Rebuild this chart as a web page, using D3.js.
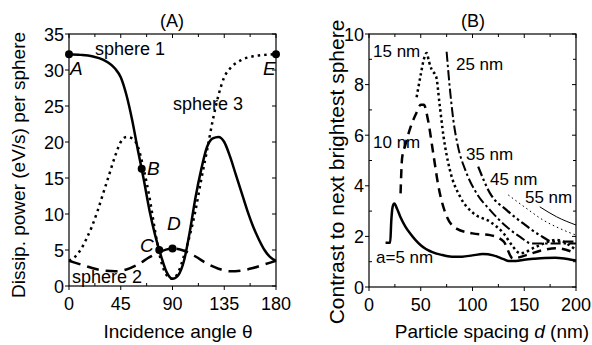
<!DOCTYPE html>
<html>
<head>
<meta charset="utf-8">
<script src="https://cdn.jsdelivr.net/npm/d3@7"></script>
<style>
  body { margin: 0; background: #fff; }
  svg { display: block; font-family: "Liberation Sans", Arial, sans-serif; }
</style>
</head>
<body>
<svg id="chart" width="592" height="345"></svg>
<script>
// Panel A: dissipated power vs incidence angle
const anglesA = [0, 10, 20, 30, 40, 45, 50, 55, 60, 65, 70, 75, 80, 85, 90, 95, 100, 105, 110, 115, 120, 125, 130, 135, 140, 145, 150, 155, 160, 165, 170, 175, 180];
const sphere1 = [32.2, 32.1, 31.9, 31.4, 30.2, 29.0, 26.5, 23.0, 18.8, 14.8, 10.5, 7.0, 4.2, 1.9, 1.0, 1.5, 3.5, 7.5, 12.3, 16.2, 19.3, 20.5, 20.7, 20.0, 18.0, 15.5, 13.0, 10.5, 8.3, 6.5, 5.0, 4.0, 3.5];
const anglesS3 = [0, 5, 10, 15, 20, 25, 30, 35, 40, 45, 50, 55, 60, 65, 70, 75, 80, 85, 90, 95, 100, 105, 110, 115, 120, 125, 130, 135, 140, 150, 160, 170, 180];
const sphere3 = [3.5, 4.0, 5.0, 6.5, 8.3, 10.5, 13.0, 15.5, 18.0, 20.0, 20.7, 20.5, 19.3, 16.2, 12.3, 7.5, 3.5, 1.5, 1.0, 1.9, 4.2, 7.0, 10.5, 14.8, 18.8, 23.0, 26.5, 29.0, 30.2, 31.4, 31.9, 32.1, 32.2];
const anglesS2 = [0, 10, 20, 30, 40, 50, 60, 70, 80, 90, 100, 110, 120, 130, 140, 150, 160, 170, 180];
const sphere2 = [3.5, 3.0, 2.5, 2.15, 2.05, 2.3, 3.0, 4.0, 4.8, 5.2, 4.9, 4.1, 3.1, 2.4, 2.05, 2.15, 2.5, 3.0, 3.5];

const markerNames = ['A', 'B', 'C', 'D', 'E'];
const markerAngles = [0, 63.2, 78.5, 90, 180];
const markerValues = [32.2, 16.3, 5.0, 5.2, 32.2];

const xTicksA = [0, 45, 90, 135, 180];
const yTicksA = [0, 5, 10, 15, 20, 25, 30, 35];

// Panel B: contrast vs particle spacing, one curve per radius
const dA5 = [16, 20.5, 21.5, 23, 24.5, 27, 30, 35, 40, 45, 50, 55, 60, 70, 80, 90, 100, 110, 120, 130, 135, 142, 150, 160, 170, 180, 190, 200];
const vA5 = [1.75, 1.75, 2.6, 3.2, 3.3, 3.1, 2.8, 2.4, 2.1, 1.85, 1.65, 1.5, 1.4, 1.27, 1.2, 1.2, 1.25, 1.3, 1.25, 1.1, 1.03, 1.03, 1.08, 1.12, 1.15, 1.16, 1.12, 1.05];
const dA10 = [30.5, 32, 35, 40, 46, 50, 53, 57, 62, 67, 75, 85, 100, 117, 130, 139, 152, 168, 181, 200];
const vA10 = [3.7, 5.1, 5.6, 6.3, 6.9, 7.2, 7.2, 6.6, 5.3, 4.0, 2.8, 2.3, 2.12, 2.05, 1.8, 1.13, 1.26, 1.46, 1.53, 1.33];
const dA15 = [46, 50, 53, 55.7, 58, 60.5, 65, 68, 72, 78, 88, 101, 117, 130, 139, 146, 162, 181, 200];
const vA15 = [7.5, 8.4, 9.0, 9.25, 8.9, 8.6, 8.3, 7.3, 5.95, 4.65, 3.57, 2.91, 2.58, 2.12, 1.6, 1.33, 1.6, 1.86, 1.46];
const dA25 = [75, 78, 81.5, 86, 93, 104, 117, 133, 146, 157, 175, 200];
const vA25 = [9.3, 7.9, 6.6, 5.55, 4.63, 3.7, 3.04, 2.38, 1.98, 1.72, 1.72, 1.72];
const dA35 = [105.5, 117, 133, 149, 165, 178, 200];
const vA35 = [4.76, 3.7, 3.04, 2.51, 2.05, 1.79, 1.79];
const dA45 = [134.5, 152, 168.5, 184.5, 200];
const vA45 = [3.64, 3.11, 2.64, 2.31, 2.05];
const dA55 = [165, 181, 200];
const vA55 = [3.17, 2.78, 2.45];

const curveNames = ['a=5 nm', '10 nm', '15 nm', '25 nm', '35 nm', '45 nm', '55 nm'];
const xTicksB = [0, 50, 100, 150, 200];
const yTicksB = [0, 2, 4, 6, 8, 10];

const svg = d3.select('#chart');

function frame(g, x, y, xMajor, xMinor, yMajor, yMinor) {
  const [x0, x1] = x.range();
  const [y0, y1] = y.range();
  g.append('rect')
    .attr('x', x0).attr('y', y1)
    .attr('width', x1 - x0).attr('height', y0 - y1)
    .attr('fill', 'none').attr('stroke', '#000').attr('stroke-width', 1.2);

  // major ticks: outward on bottom/left, inward on top/right
  xMajor.forEach(t => {
    g.append('line').attr('x1', x(t)).attr('x2', x(t)).attr('y1', y0).attr('y2', y0 + 4);
    g.append('line').attr('x1', x(t)).attr('x2', x(t)).attr('y1', y1).attr('y2', y1 + 4);
  });
  yMajor.forEach(t => {
    g.append('line').attr('x1', x0 - 4).attr('x2', x0).attr('y1', y(t)).attr('y2', y(t));
    g.append('line').attr('x1', x1 - 4).attr('x2', x1).attr('y1', y(t)).attr('y2', y(t));
  });
  xMinor.forEach(t => {
    g.append('line').attr('x1', x(t)).attr('x2', x(t)).attr('y1', y0).attr('y2', y0 - 3);
    g.append('line').attr('x1', x(t)).attr('x2', x(t)).attr('y1', y1).attr('y2', y1 + 3);
  });
  yMinor.forEach(t => {
    g.append('line').attr('x1', x0).attr('x2', x0 + 3).attr('y1', y(t)).attr('y2', y(t));
    g.append('line').attr('x1', x1 - 3).attr('x2', x1).attr('y1', y(t)).attr('y2', y(t));
  });
  g.selectAll('line').attr('stroke', '#000').attr('stroke-width', 1);

  g.selectAll('.xl').data(xMajor).enter().append('text')
    .attr('x', d => x(d)).attr('y', y0 + 24)
    .attr('text-anchor', 'middle').attr('font-size', 18)
    .text(d => d);
  g.selectAll('.yl').data(yMajor).enter().append('text')
    .attr('x', x0 - 5).attr('y', d => y(d) + 6.5)
    .attr('text-anchor', 'end').attr('font-size', 18)
    .text(d => d);
}

// ---------- Panel A ----------
const xA = d3.scaleLinear().domain([0, 180]).range([69, 276]);
const yA = d3.scaleLinear().domain([0, 35]).range([286, 34]);
const gA = svg.append('g');

frame(gA, xA, yA, xTicksA, [22.5, 67.5, 112.5, 157.5], yTicksA, []);

const lineA = (xs) => d3.line()
  .x((d, i) => xA(xs[i])).y(d => yA(d))
  .curve(d3.curveMonotoneX);

gA.append('path').datum(sphere3).attr('d', lineA(anglesS3))
  .attr('fill', 'none').attr('stroke', '#000').attr('stroke-width', 2.5)
  .attr('stroke-dasharray', '2.5,4');
gA.append('path').datum(sphere2).attr('d', lineA(anglesS2))
  .attr('fill', 'none').attr('stroke', '#000').attr('stroke-width', 2.5)
  .attr('stroke-dasharray', '12,7');
gA.append('path').datum(sphere1).attr('d', lineA(anglesA))
  .attr('fill', 'none').attr('stroke', '#000').attr('stroke-width', 2.5);

gA.selectAll('.dot').data(markerNames).enter().append('circle')
  .attr('cx', (d, i) => xA(markerAngles[i]))
  .attr('cy', (d, i) => yA(markerValues[i]))
  .attr('r', 4).attr('fill', '#000');

const letterAt = { A: [0.9, 29.3], B: [67.8, 15.4], C: [61.7, 4.7], D: [85.2, 7.8], E: [168.7, 29.3] };
markerNames.forEach(n => {
  gA.append('text').attr('x', xA(letterAt[n][0])).attr('y', yA(letterAt[n][1]))
    .attr('font-size', 19).attr('font-style', 'italic').text(n);
});

const sphereLabels = [['sphere 1', 22.6, 32.1], ['sphere 3', 90.4, 24.4], ['sphere 2', 2.6, 0.4]];
sphereLabels.forEach(s => {
  gA.append('text').attr('x', xA(s[1])).attr('y', yA(s[2]))
    .attr('font-size', 18).text(s[0]);
});

gA.append('text').attr('x', 172).attr('y', 27).attr('text-anchor', 'middle')
  .attr('font-size', 18).text('(A)');
gA.append('text').attr('x', 178).attr('y', 338).attr('text-anchor', 'middle')
  .attr('font-size', 19).text('Incidence angle θ');
gA.append('text').attr('transform', 'translate(25,165) rotate(-90)')
  .attr('text-anchor', 'middle').attr('font-size', 19)
  .text('Dissip. power (eV/s) per sphere');

// ---------- Panel B ----------
const xB = d3.scaleLinear().domain([0, 200]).range([369, 576]);
const yB = d3.scaleLinear().domain([0, 10]).range([287, 34]);
const gB = svg.append('g');

frame(gB, xB, yB, xTicksB, [25, 75, 125, 175], yTicksB, [1, 3, 5, 7, 9]);

const seriesB = [
  { d: dA5, v: vA5, w: 2.5, dash: null },
  { d: dA10, v: vA10, w: 2.5, dash: '9,6' },
  { d: dA15, v: vA15, w: 2.5, dash: '2.5,3' },
  { d: dA25, v: vA25, w: 2, dash: '10,3,2.5,3' },
  { d: dA35, v: vA35, w: 2.2, dash: '10,3,2.5,3,2.5,3' },
  { d: dA45, v: vA45, w: 1, dash: '1.5,3' },
  { d: dA55, v: vA55, w: 1, dash: null }
];
seriesB.forEach(s => {
  const line = d3.line()
    .x((d, i) => xB(s.d[i])).y(d => yB(d))
    .curve(d3.curveMonotoneX);
  gB.append('path').datum(s.v).attr('d', line)
    .attr('fill', 'none').attr('stroke', '#000').attr('stroke-width', s.w)
    .attr('stroke-dasharray', s.dash);
});

const labelPosB = [[6.8, 0.95], [3.9, 5.49], [3.9, 9.09], [84, 8.58], [93.7, 5.02], [117, 4.03], [150.7, 3.32]];
curveNames.forEach((n, i) => {
  gB.append('text').attr('x', xB(labelPosB[i][0])).attr('y', yB(labelPosB[i][1]))
    .attr('font-size', 17).text(n);
});

gB.append('text').attr('x', 473).attr('y', 27).attr('text-anchor', 'middle')
  .attr('font-size', 18).text('(B)');
const xt = gB.append('text').attr('x', 492).attr('y', 338).attr('text-anchor', 'middle')
  .attr('font-size', 19);
xt.append('tspan').text('Particle spacing ');
xt.append('tspan').attr('font-style', 'italic').text('d');
xt.append('tspan').text(' (nm)');
gB.append('text').attr('transform', 'translate(344,172) rotate(-90)')
  .attr('text-anchor', 'middle').attr('font-size', 21)
  .text('Contrast to next brightest sphere');
</script>
</body>
</html>
